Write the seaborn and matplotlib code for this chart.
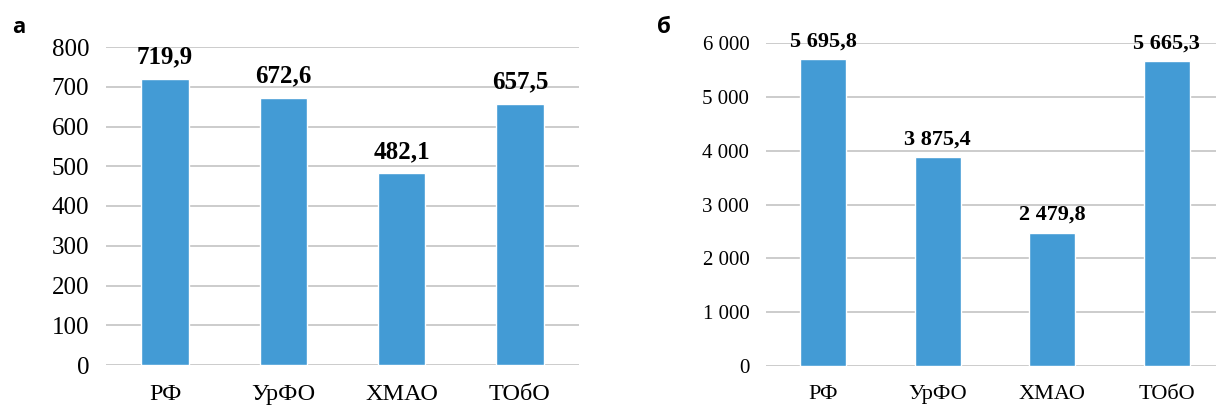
import matplotlib.pyplot as plt
import seaborn as sns
import pandas as pd

regions = ['РФ', 'УрФО', 'ХМАО', 'ТОбО']
values_a = [719.9, 672.6, 482.1, 657.5]
values_b = [5695.8, 3875.4, 2479.8, 5665.3]
ticks_a = [0, 100, 200, 300, 400, 500, 600, 700, 800]
ticks_b = [0, 1000, 2000, 3000, 4000, 5000, 6000]

BAR = '#439bd5'
GRID = '#c8c8c8'

sns.set_theme(style='white')
plt.rcParams['font.family'] = ['Liberation Serif', 'DejaVu Serif']
plt.rcParams['text.color'] = 'black'
plt.rcParams['xtick.color'] = 'black'
plt.rcParams['ytick.color'] = 'black'


def ru_num(v, dec=None):
    s = f'{v:,.1f}' if dec else f'{v:,.0f}'
    return s.replace(',', ' ').replace('.', ',')


def draw(ax, vals, ticks, tick_fs, lab_fs, x_fs, off):
    df = pd.DataFrame({'region': regions, 'value': vals})
    sns.barplot(data=df, x='region', y='value', color=BAR, width=0.4,
                saturation=1, ax=ax)
    ax.set_ylim(ticks[0], ticks[-1])
    ax.set_yticks(ticks)
    ax.set_yticklabels([ru_num(t) for t in ticks], fontsize=tick_fs)
    ax.set_xticks(range(len(regions)))
    ax.set_xticklabels(regions, fontsize=x_fs)
    ax.set_xlabel('')
    ax.set_ylabel('')
    ax.set_axisbelow(True)
    ax.yaxis.grid(True, color=GRID, linewidth=1.3)
    ax.tick_params(axis='y', length=0, pad=12, labelcolor='black')
    ax.tick_params(axis='x', length=0, pad=14, labelcolor='black')
    sns.despine(ax=ax, left=True, bottom=True)
    for i, v in enumerate(vals):
        ax.annotate(ru_num(v, dec=True), (i, v), xytext=(0, off),
                    textcoords='offset points', ha='center', va='baseline',
                    fontsize=lab_fs, fontweight='bold', color='black',
                    clip_on=False)


fig = plt.figure(figsize=(12.16, 4.07), dpi=100)
W, H = 1216, 407
ax1 = fig.add_axes([106 / W, 1 - 365 / H, (579 - 106) / W, (365 - 47) / H])
ax2 = fig.add_axes([766 / W, 1 - 366 / H, (1224 - 766) / W, (366 - 43) / H])

draw(ax1, values_a, ticks_a, 18, 18, 17.5, 11)
draw(ax2, values_b, ticks_b, 15, 16, 16, 9)

fig.text(12 / W, 1 - 33 / H, 'а', fontsize=16, fontweight='bold',
         color='black', family=['Open Sans', 'DejaVu Sans'])
fig.text(657 / W, 1 - 33 / H, 'б', fontsize=16, fontweight='bold',
         color='black', family=['Open Sans', 'DejaVu Sans'])

fig.savefig('out.png', dpi=100)
